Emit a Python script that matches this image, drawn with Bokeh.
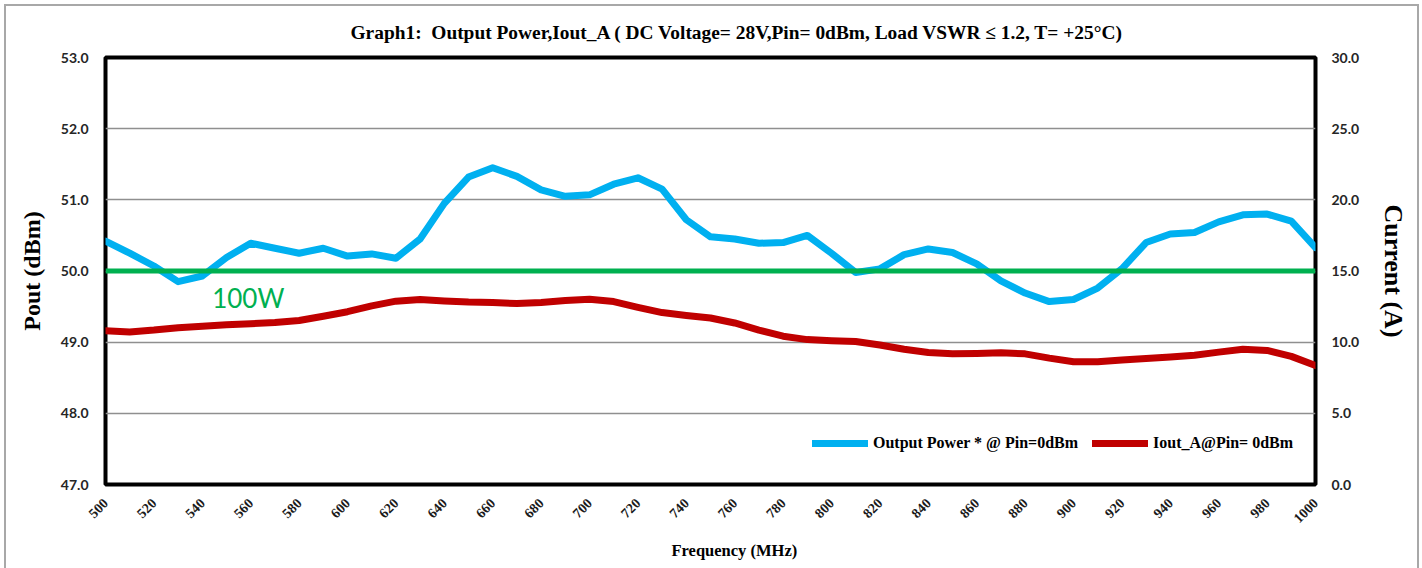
import math
from bokeh.plotting import figure
from bokeh.models import (Range1d, LinearAxis, FixedTicker, NumeralTickFormatter,
                          Span, Label, Legend, LegendItem, Title, InlineStyleSheet)
from bokeh.embed import file_html
from bokeh.resources import INLINE

# ---------------- data ----------------
FREQ_MHZ = [500, 510, 520, 530, 540, 550, 560, 570, 580, 590,
            600, 610, 620, 630, 640, 650, 660, 670, 680, 690,
            700, 710, 720, 730, 740, 750, 760, 770, 780, 790,
            800, 810, 820, 830, 840, 850, 860, 870, 880, 890,
            900, 910, 920, 930, 940, 950, 960, 970, 980, 990,
            1000]
POUT_DBM = [50.42, 50.25, 50.07, 49.85, 49.93, 50.19, 50.39, 50.32, 50.25, 50.32,
            50.21, 50.24, 50.18, 50.45, 50.95, 51.32, 51.45, 51.33, 51.14, 51.05,
            51.07, 51.22, 51.31, 51.15, 50.72, 50.48, 50.45, 50.39, 50.40, 50.50,
            50.25, 49.98, 50.03, 50.23, 50.31, 50.26, 50.10, 49.86, 49.69, 49.57,
            49.60, 49.76, 50.03, 50.40, 50.52, 50.54, 50.69, 50.79, 50.80, 50.70,
            50.33]
IOUT_A = [10.80, 10.72, 10.85, 11.02, 11.12, 11.22, 11.30, 11.38, 11.52, 11.82,
          12.14, 12.55, 12.88, 13.00, 12.90, 12.82, 12.78, 12.72, 12.78, 12.92,
          13.02, 12.85, 12.45, 12.08, 11.88, 11.70, 11.35, 10.85, 10.42, 10.18,
          10.10, 10.05, 9.80, 9.50, 9.28, 9.18, 9.20, 9.25, 9.18, 8.88,
          8.62, 8.62, 8.75, 8.85, 8.95, 9.08, 9.30, 9.50, 9.42, 9.00,
          8.36]
LIMIT_DBM = 50.0
LIMIT_LABEL = "100W"
LIMIT_LABEL_POS = (559, 49.62)
SERIES_NAMES = ["Output Power * @ Pin=0dBm", "Iout_A@Pin= 0dBm"]
X_TICKS = list(range(500, 1001, 20))
Y_LEFT_TICKS = [47, 48, 49, 50, 51, 52, 53]
Y_RIGHT_TICKS = [0, 5, 10, 15, 20, 25, 30]
TITLE = "Graph1:\u00a0 Output Power,Iout_A ( DC Voltage= 28V,Pin= 0dBm, Load VSWR \u2264 1.2, T= +25\u00b0C)"
X_LABEL = "Frequency (MHz)"
Y_LEFT_LABEL = "Pout (dBm)"
Y_RIGHT_LABEL = "Current (A)"

BLUE = "#00B0F0"
RED = "#C00000"
GREEN = "#00B050"
SERIF = "Liberation Serif"
SANS = "Lato"

p = figure(width=1422, height=568, output_backend="svg", toolbar_location=None,
           x_range=Range1d(500, 1000), y_range=Range1d(47, 53),
           min_border_left=105, min_border_right=107, min_border_top=57, min_border_bottom=84)
p.extra_y_ranges = {"cur": Range1d(0, 30)}
p.background_fill_color = "white"
p.border_fill_color = "white"
p.outline_line_color = "black"
p.outline_line_width = 4
p.stylesheets = [InlineStyleSheet(css=(
    ":host { position: relative; }"
    ":host::after { content: ''; position: absolute; left: 4px; top: 4px; right: 3px; bottom: 0px;"
    " border: 2px solid #a8a8a8; border-bottom: none; pointer-events: none; z-index: 50; }"))]

p.xgrid.visible = False
p.ygrid.grid_line_color = "#8f8f8f"
p.ygrid.grid_line_width = 1.5

def style_axis(ax):
    ax.axis_line_color = None
    ax.major_tick_line_color = None
    ax.minor_tick_line_color = None

xa = p.xaxis[0]
style_axis(xa)
xa.ticker = FixedTicker(ticks=X_TICKS)
xa.major_label_orientation = math.pi / 4
xa.major_label_text_font = SERIF
xa.major_label_text_font_style = "bold"
xa.major_label_text_font_size = "14px"
xa.major_label_text_color = "#1a1a1a"
xa.major_label_standoff = 10

ya = p.yaxis[0]
style_axis(ya)
ya.ticker = FixedTicker(ticks=Y_LEFT_TICKS)
ya.formatter = NumeralTickFormatter(format="0.0")
ya.major_label_text_font = SANS
ya.major_label_text_font_style = "bold"
ya.major_label_text_font_size = "14px"
ya.major_label_text_color = "#262626"
ya.major_label_standoff = 11
ya.axis_label = Y_LEFT_LABEL
ya.axis_label_text_font = SERIF
ya.axis_label_text_font_style = "bold"
ya.axis_label_text_font_size = "24px"
ya.axis_label_text_color = "black"
ya.axis_label_standoff = 13

ra = LinearAxis(y_range_name="cur")
style_axis(ra)
ra.ticker = FixedTicker(ticks=Y_RIGHT_TICKS)
ra.formatter = NumeralTickFormatter(format="0.0")
ra.major_label_text_font = SANS
ra.major_label_text_font_style = "bold"
ra.major_label_text_font_size = "14px"
ra.major_label_text_color = "#262626"
ra.major_label_standoff = 10
ra.axis_label = Y_RIGHT_LABEL
ra.axis_label_text_font = SERIF
ra.axis_label_text_font_style = "bold"
ra.axis_label_text_font_size = "26px"
ra.axis_label_text_color = "black"
ra.axis_label_standoff = 17
p.add_layout(ra, "right")

r_cur = p.line(FREQ_MHZ, IOUT_A, y_range_name="cur", line_color=RED, line_width=7,
               line_join="round", line_cap="round")
r_pow = p.line(FREQ_MHZ, POUT_DBM, line_color=BLUE, line_width=7,
               line_join="round", line_cap="round")

p.add_layout(Span(location=LIMIT_DBM, dimension="width", line_color=GREEN, line_width=5))
p.add_layout(Label(x=LIMIT_LABEL_POS[0], y=LIMIT_LABEL_POS[1], text=LIMIT_LABEL,
                   text_font=SANS, text_font_size="26px", text_color=GREEN,
                   text_align="center", text_baseline="middle"))

legend = Legend(items=[LegendItem(label=SERIES_NAMES[0], renderers=[r_pow]),
                       LegendItem(label=SERIES_NAMES[1], renderers=[r_cur])],
                orientation="horizontal", location=(707, 31),
                padding=0, margin=0, spacing=14, label_standoff=5,
                glyph_width=56, glyph_height=20, label_height=20,
                border_line_color=None, background_fill_alpha=0,
                label_text_font=SERIF, label_text_font_style="bold",
                label_text_font_size="16px", label_text_color="black")
p.add_layout(legend)

title = Title(text=TITLE, align="left", offset=245, standoff=30,
              text_font=SERIF, text_font_style="bold", text_font_size="19.4px",
              text_color="black")
p.add_layout(title, "above")

xlabel = Title(text=X_LABEL, align="left", offset=566, standoff=16,
               text_font=SERIF, text_font_style="bold", text_font_size="16.5px",
               text_color="black")
p.add_layout(xlabel, "below")

open("out.html", "w").write(file_html(p, INLINE))
